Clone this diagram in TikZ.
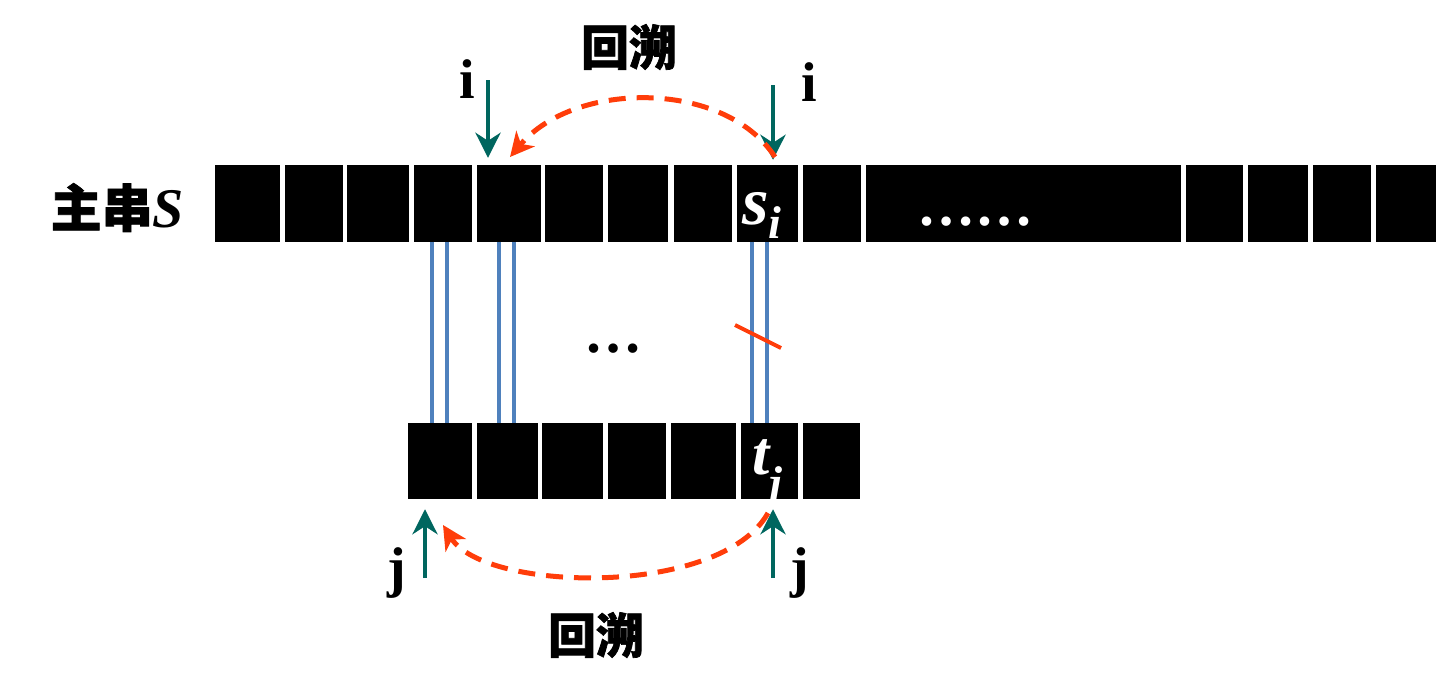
\documentclass[tikz,border=0pt]{standalone}
\usepackage{fontspec}
\setmainfont{Liberation Serif}
\newfontfamily\cjk{Noto Sans CJK SC}[BoldFeatures={FakeBold=1.5}]
\usetikzlibrary{arrows.meta}
\definecolor{tealc}{HTML}{00665F}
\definecolor{redc}{HTML}{FF3D0A}
\definecolor{bluec}{HTML}{4F81BD}
\begin{document}
\begin{tikzpicture}[x=1pt,y=-1pt,
  cell/.style={fill=black, draw=none, inner sep=0pt, minimum height=77pt},
  bcell/.style={fill=black, draw=none, inner sep=0pt, minimum height=76pt},
  ptr/.style={draw=tealc, line width=4.5pt, -{Stealth[length=25pt,width=25pt,inset=8pt]}},
  back/.style={draw=redc, line width=5pt, dash pattern=on 17pt off 11pt, -{Stealth[length=24pt,width=24pt,inset=7pt]}},
  match/.style={draw=bluec, line width=4pt},
  lab/.style={font=\fontsize{56}{56}\selectfont\bfseries, inner sep=0pt},
  cjklab/.style={font=\cjk\bfseries\fontsize{48}{48}\selectfont, inner sep=0pt}]
\useasboundingbox (0,0) rectangle (1442,694);
% main string cells
\foreach \n/\l/\r in {1/215/280,2/285/343,3/347/409,4/414/472,5/477/541,6/545/603,7/608/668,8/674/732,9/737/798,10/803/861,11/866/1181,12/1186/1243,13/1248/1308,14/1313/1371,15/1376/1436}
  \node[cell, minimum width={(\r-\l)*1pt}] (a\n) at ({(\l+\r)/2},203.5) {};
% pattern cells
\foreach \n/\l/\r in {1/408/472,2/477/538,3/542/603,4/608/666,5/671/736,6/741/798,7/803/860}
  \node[bcell, minimum width={(\r-\l)*1pt}] (b\n) at ({(\l+\r)/2},461) {};
% labels in cells
\node[anchor=base west, inner sep=0pt, text=white, font=\fontsize{68}{68}\selectfont\bfseries\itshape] (si) at (742,224) {s\raisebox{-14pt}{\fontsize{46}{46}\selectfont i}};
\node[anchor=base west, inner sep=0pt, text=white, font=\fontsize{62}{62}\selectfont\bfseries\itshape] (tj) at (752,474) {t\raisebox{-24pt}{\fontsize{46}{46}\selectfont j}};
\node[anchor=base, inner sep=0pt, text=white, font=\fontsize{58}{58}\selectfont\bfseries] (dots) at (975,225) {……};
\node[anchor=base, inner sep=0pt, font=\fontsize{58}{58}\selectfont\bfseries] (mdots) at (613,352) {…};
% main string label
\node[anchor=base east, inner sep=0pt] (S) at (184,227) {{\cjk\bfseries\fontsize{51}{51}\selectfont 主串}{\fontsize{56}{56}\selectfont\bfseries\itshape S}};
% matching lines
\foreach \c/\d/\dx in {a4/b1/-11,a4/b1/4,a5/b2/-10,a5/b2/5,a9/b6/-15.5,a9/b6/-0.5}
  \draw[match] ([xshift=\dx pt]\c.south) -- ([xshift=\dx pt]\c.south |- \d.north);
% mismatch slash
\coordinate (x1) at (735,325);
\coordinate (x2) at (781,348);
\draw[draw=redc, line width=4pt] (x1) -- (x2);
% pointers
\coordinate (i1) at (488,80);
\coordinate (i2) at (773,85);
\coordinate (j1) at (425,578);
\coordinate (j2) at (773,578);
\draw[ptr] (i1) -- ([yshift=7pt]i1 |- a5.north);
\draw[ptr] (i2) -- ([yshift=5pt]i2 |- a9.north);
\draw[ptr] (j1) -- ([yshift=-10pt]j1 |- b1.south);
\draw[ptr] (j2) -- ([yshift=-10pt]j2 |- b6.south);
\node[lab, anchor=base] (li1) at (467,98) {i};
\node[lab, anchor=base] (li2) at (809,101) {i};
\node[lab, anchor=base] (lj1) at (397,586) {j};
\node[lab, anchor=base] (lj2) at (800,586) {j};
% backtracking arcs
\coordinate (r1) at (775,157);
\coordinate (r2) at (510,157);
\draw[back] (r1) .. controls (725,80) and (575,80) .. (r2);
\coordinate (r3) at (768,513);
\coordinate (r4) at (443,525);
\draw[back] (r3) .. controls (720,598) and (485,592) .. (r4);
\node[cjklab] (h1) at (629,47) {回溯};
\node[cjklab] (h2) at (596,635) {回溯};
\end{tikzpicture}
\end{document}
